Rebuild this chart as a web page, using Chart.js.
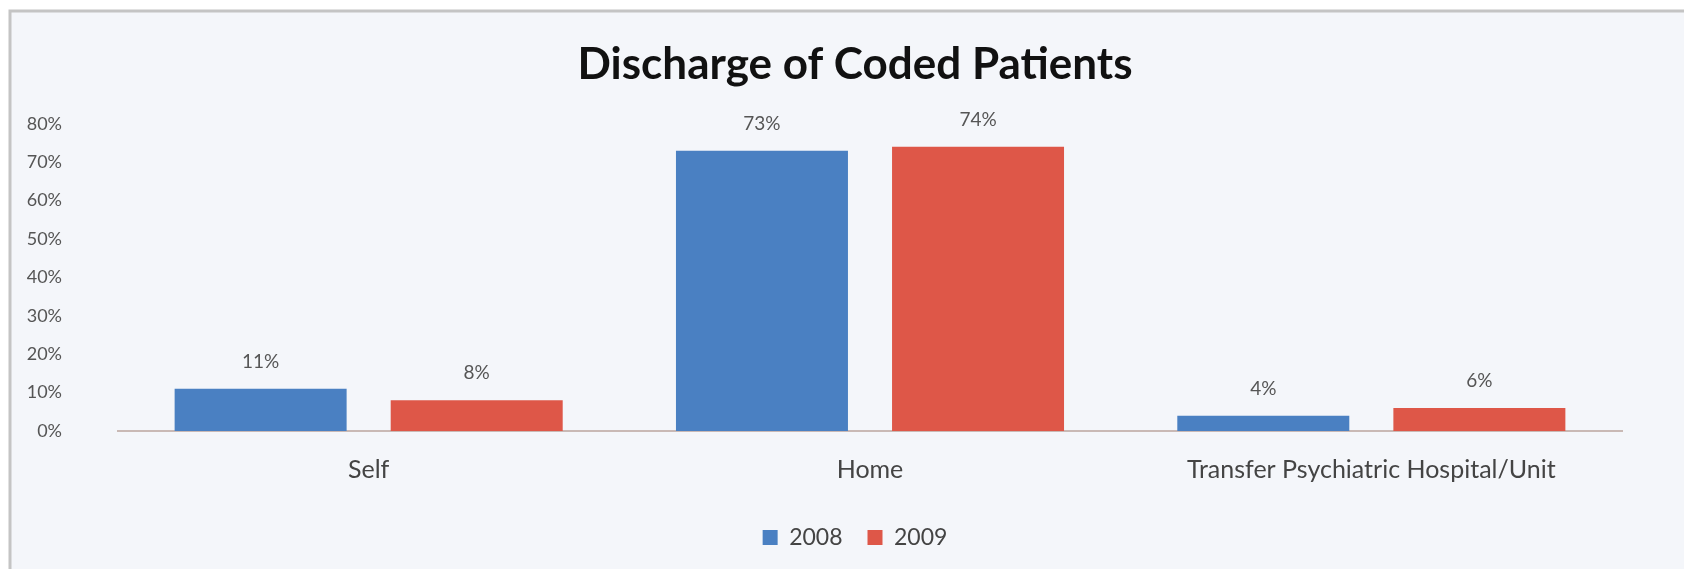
<!DOCTYPE html>
<html>
<head>
<meta charset="utf-8">
<script src="https://cdn.jsdelivr.net/npm/chart.js@4"></script>
<style>
  html, body { margin: 0; padding: 0; background: #ffffff; }
  #wrap { width: 1684px; height: 574px; position: relative; }
</style>
</head>
<body>
<div id="wrap"><canvas id="chart"></canvas></div>
<script>
const categories = ["Self", "Home", "Transfer Psychiatric Hospital/Unit"];
const seriesNames = ["2008", "2009"];
const values2008 = [11, 73, 4];
const values2009 = [8, 74, 6];
const yTicks = [0, 10, 20, 30, 40, 50, 60, 70, 80];

const fontFamily = "Lato, 'Open Sans', sans-serif";

// panel background + frame like the office chart box
const panelBackground = {
  id: "panelBackground",
  beforeDraw(chart) {
    const ctx = chart.ctx;
    ctx.save();
    ctx.fillStyle = "#ffffff";
    ctx.fillRect(0, 0, chart.width, chart.height);
    ctx.fillStyle = "#f4f6fa";
    ctx.fillRect(10, 11, chart.width - 10, chart.height - 16);
    ctx.strokeStyle = "#c4c4c4";
    ctx.lineWidth = 3;
    ctx.beginPath();
    ctx.moveTo(10, chart.height - 5);
    ctx.lineTo(10, 11);
    ctx.lineTo(chart.width, 11);
    ctx.stroke();
    ctx.restore();
  }
};

// value labels above each bar
const barValueLabels = {
  id: "barValueLabels",
  afterDatasetsDraw(chart) {
    const ctx = chart.ctx;
    ctx.save();
    ctx.font = "19px " + fontFamily;
    ctx.fillStyle = "#555555";
    ctx.textAlign = "center";
    ctx.textBaseline = "middle";
    chart.data.datasets.forEach((ds, i) => {
      chart.getDatasetMeta(i).data.forEach((bar, j) => {
        ctx.fillText(ds.data[j] + "%", bar.x, bar.y - 27);
      });
    });
    ctx.restore();
  }
};

new Chart(document.getElementById("chart"), {
  type: "bar",
  data: {
    labels: categories,
    datasets: [
      {
        label: seriesNames[0],
        data: values2008,
        backgroundColor: "#4a80c2",
        categoryPercentage: 0.862,
        barPercentage: 0.796
      },
      {
        label: seriesNames[1],
        data: values2009,
        backgroundColor: "#de5748",
        categoryPercentage: 0.862,
        barPercentage: 0.796
      }
    ]
  },
  options: {
    responsive: true,
    maintainAspectRatio: false,
    animation: false,
    layout: {
      padding: { left: 26, right: 0, top: 0, bottom: 15 }
    },
    plugins: {
      title: {
        display: true,
        text: "Discharge of Coded Patients",
        color: "#111111",
        font: { family: fontFamily, size: 44, weight: "bold" },
        padding: { top: 38, bottom: 33 }
      },
      legend: {
        position: "bottom",
        labels: {
          color: "#444444",
          font: { family: fontFamily, size: 23 },
          boxWidth: 15,
          boxHeight: 15,
          padding: 25
        }
      },
      tooltip: { enabled: false }
    },
    scales: {
      x: {
        grid: { display: false },
        border: { display: true, color: "#c9b9b5", width: 2 },
        ticks: {
          color: "#444444",
          font: { family: fontFamily, size: 25 },
          padding: 16
        }
      },
      y: {
        min: 0,
        max: 80,
        afterBuildTicks(scale) {
          scale.ticks = yTicks.map(v => ({ value: v }));
        },
        afterFit(scale) {
          scale.width = 92;
        },
        grid: { display: false },
        border: { display: false },
        ticks: {
          color: "#555555",
          font: { family: fontFamily, size: 18 },
          padding: 48,
          callback: v => v + "%"
        }
      },
      // empty right-hand gutter so the plot stops short of the edge
      yGutter: {
        position: "right",
        grid: { display: false },
        border: { display: false },
        ticks: { display: false },
        afterFit(scale) {
          scale.width = 62;
        }
      }
    }
  },
  plugins: [panelBackground, barValueLabels]
});
</script>
</body>
</html>
